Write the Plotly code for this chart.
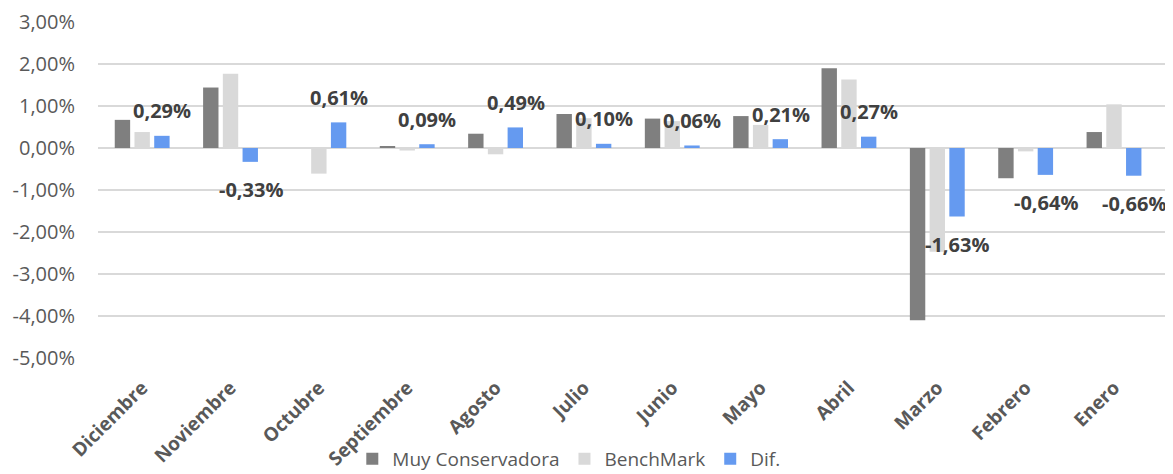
import plotly.graph_objects as go

months = ["Diciembre", "Noviembre", "Octubre", "Septiembre", "Agosto", "Julio",
          "Junio", "Mayo", "Abril", "Marzo", "Febrero", "Enero"]
muy_conservadora = [0.0067, 0.0144, 0.0000, 0.0003, 0.0034, 0.0081,
                    0.0070, 0.0076, 0.0190, -0.0410, -0.0072, 0.0038]
benchmark = [0.0038, 0.0177, -0.0061, -0.0006, -0.0015, 0.0071,
             0.0064, 0.0055, 0.0163, -0.0247, -0.0008, 0.0104]
dif = [0.0029, -0.0033, 0.0061, 0.0009, 0.0049, 0.0010,
       0.0006, 0.0021, 0.0027, -0.0163, -0.0064, -0.0066]
dif_labels = ["0,29%", "-0,33%", "0,61%", "0,09%", "0,49%", "0,10%",
              "0,06%", "0,21%", "0,27%", "-1,63%", "-0,64%", "-0,66%"]
y_tickvals = [0.03, 0.02, 0.01, 0.0, -0.01, -0.02, -0.03, -0.04, -0.05]
y_ticktext = ["3,00%", "2,00%", "1,00%", "0,00%", "-1,00%", "-2,00%",
              "-3,00%", "-4,00%", "-5,00%"]

FONT = "Open Sans"
fig = go.Figure()
fig.add_trace(go.Bar(name="Muy Conservadora", x=months, y=muy_conservadora,
                     marker=dict(color="#7F7F7F", line=dict(width=0))))
fig.add_trace(go.Bar(name="BenchMark", x=months, y=benchmark,
                     marker=dict(color="#D9D9D9", line=dict(width=0))))
fig.add_trace(go.Bar(name="Dif.", x=months, y=dif,
                     marker=dict(color="#659AF0", line=dict(width=0))))

for m, v, t in zip(months, dif, dif_labels):
    fig.add_annotation(x=m, y=v, text=t, showarrow=False, xref="x", yref="y",
                       xshift=20, yshift=25 if v >= 0 else -28, yanchor="middle",
                       font=dict(family=FONT, size=20, color="#404040", weight="bold"))

fig.update_layout(
    width=1165, height=466,
    margin=dict(l=90, r=5, t=14, b=116, autoexpand=False),
    paper_bgcolor="white", plot_bgcolor="white",
    barmode="group", bargap=0.33, bargroupgap=0.22,
    font=dict(family=FONT, color="#595959"),
    showlegend=True,
    legend=dict(orientation="h", x=0.44, xanchor="center", y=-0.3, yanchor="middle",
                bgcolor="rgba(0,0,0,0)",
                font=dict(family=FONT, size=19, color="#595959"),
                itemwidth=30, tracegroupgap=0, traceorder="normal"),
)
fig.update_xaxes(showgrid=False, showline=False, zeroline=False, ticks="",
                 tickangle=-45, automargin=False, ticklabelstandoff=14,
                 tickfont=dict(family=FONT, size=19, color="#595959", weight="bold"))
fig.update_yaxes(range=[-0.05, 0.03], tickvals=y_tickvals, ticktext=y_ticktext,
                 showgrid=True, gridcolor="#D9D9D9", gridwidth=1.5,
                 zeroline=True, zerolinecolor="#D9D9D9", zerolinewidth=1.5,
                 showline=False, ticks="", automargin=False, ticklabelstandoff=22,
                 tickfont=dict(family=FONT, size=20, color="#595959"))

fig.write_html("out.html")
